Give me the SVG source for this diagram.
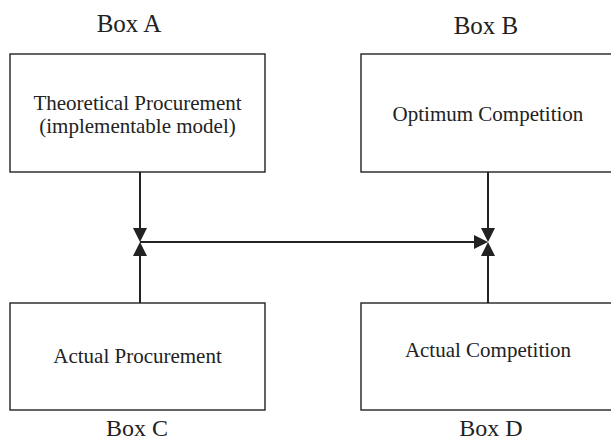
<svg xmlns="http://www.w3.org/2000/svg" width="611" height="442" viewBox="0 0 611 442">
<style>
.box{fill:#fff;stroke:#222;stroke-width:1.4}
.t{font-family:"Liberation Serif","Times New Roman",serif;font-size:21px;fill:#222;text-anchor:middle}
.lbl{font-family:"Liberation Serif","Times New Roman",serif;font-size:25px;fill:#222;text-anchor:middle}
.ln{stroke:#222;stroke-width:2;fill:none}
.ah{fill:#222}
</style>
<rect width="611" height="442" fill="#fff"/>
<g id="boxA">
<rect class="box" x="10" y="54" width="255" height="118"/>
<text class="t" x="137.5" y="109.5">Theoretical Procurement</text>
<text class="t" x="137.5" y="133">(implementable model)</text>
<text class="lbl" x="129" y="32">Box A</text>
</g>
<g id="boxB">
<rect class="box" x="361" y="54" width="255" height="118"/>
<text class="t" x="488" y="121">Optimum Competition</text>
<text class="lbl" x="486" y="34">Box B</text>
</g>
<g id="boxC">
<rect class="box" x="10" y="303" width="255" height="107"/>
<text class="t" x="137.5" y="363">Actual Procurement</text>
<text class="lbl" x="137" y="436" style="font-size:24px">Box C</text>
</g>
<g id="boxD">
<rect class="box" x="361" y="303" width="255" height="107"/>
<text class="t" x="488" y="357">Actual Competition</text>
<text class="lbl" x="491" y="436" style="font-size:24px">Box D</text>
</g>
<g id="connectors">
<line class="ln" x1="140" y1="172" x2="140" y2="229"/>
<polygon class="ah" points="133,228 147,228 140,242"/>
<line class="ln" x1="140" y1="303" x2="140" y2="256"/>
<polygon class="ah" points="133,256 147,256 140,242"/>
<line class="ln" x1="140" y1="242" x2="475" y2="242"/>
<polygon class="ah" points="474,235 474,249 488,242"/>
<line class="ln" x1="488" y1="172" x2="488" y2="229"/>
<polygon class="ah" points="481,228 495,228 488,242"/>
<line class="ln" x1="488" y1="303" x2="488" y2="256"/>
<polygon class="ah" points="481,256 495,256 488,242"/>
</g>
</svg>
